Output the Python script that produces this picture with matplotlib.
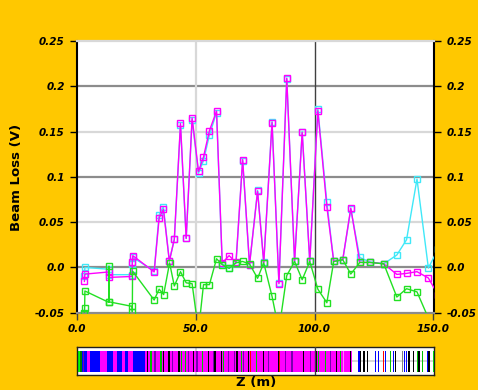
import matplotlib
matplotlib.use('Agg')
import matplotlib.pyplot as plt

# beam loss readings along the line (m, V)
z_mc = [3.0, 3.2, 13.3, 13.4, 23.1, 23.2, 23.4, 32.4, 34.5, 36.3, 38.8, 40.9, 43.5, 45.9,
        48.4, 51.1, 53.2, 55.7, 58.7, 61.1, 64.0, 66.9, 69.7, 72.6, 76.0, 78.6, 82.1, 85.0,
        88.3, 91.6, 94.8, 98.0, 101.4, 105.2, 108.1, 111.9, 115.3, 119.1, 123.3, 129.2,
        134.7, 138.8, 143.2, 148.0, 152.0]
magenta_v = [-0.0155, -0.0074, -0.005, -0.011, -0.010, 0.006, 0.013, -0.005, 0.0545, 0.064,
             0.007, 0.031, 0.159, 0.032, 0.165, 0.106, 0.122, 0.151, 0.1726, 0.005, 0.013,
             0.0055, 0.119, 0.003, 0.084, 0.005, 0.160, -0.018, 0.209, 0.0066, 0.149, 0.0066,
             0.173, 0.067, 0.0066, 0.0085, 0.0655, 0.0055, 0.0055, 0.004, -0.0077, -0.0066,
             -0.0047, -0.0117, -0.030]
cyan_v = [-0.010, 0.0, -0.002, -0.008, -0.008, 0.004, 0.011, -0.004, 0.058, 0.067,
          0.007, 0.031, 0.157, 0.032, 0.163, 0.104, 0.118, 0.146, 0.171, 0.004, -0.001,
          0.005, 0.118, 0.003, 0.085, 0.006, 0.161, -0.017, 0.208, 0.0066, 0.150, 0.0066,
          0.175, 0.072, 0.0066, 0.0085, 0.064, 0.011, 0.006, 0.004, 0.0137, 0.0306,
          0.0976, -0.0007, 0.020]

z_green = [3.0, 3.1, 3.2, 13.3, 13.35, 13.4, 23.1, 23.2, 23.3, 32.4, 34.5, 36.4, 38.9, 40.9,
           43.5, 45.9, 48.4, 51.1, 53.2, 55.7, 58.7, 61.1, 64.0, 66.9, 69.7, 72.6, 76.0, 78.6,
           82.1, 85.0, 88.3, 91.6, 94.8, 98.0, 101.4, 105.2, 108.1, 111.9, 115.3, 119.1,
           123.3, 129.2, 134.7, 138.8, 143.2, 148.0]
green_v = [-0.050, -0.045, -0.026, -0.0386, 0.0015, -0.038, -0.043, -0.049, -0.004, -0.036,
           -0.024, -0.030, 0.005, -0.0205, -0.0047, -0.017, -0.018, -0.070, -0.019, -0.019,
           0.0096, 0.003, -0.001, 0.005, 0.0066, 0.0038, -0.012, 0.005, -0.032, -0.0695,
           -0.009, 0.0066, -0.0136, 0.0066, -0.024, -0.039, 0.0066, 0.0085, -0.0073, 0.0055,
           0.0055, 0.004, -0.0327, -0.0235, -0.027, -0.056]

yticks = [-0.05, 0.0, 0.05, 0.1, 0.15, 0.2, 0.25]
ytick_labels = ['-0.05', '0.0', '0.05', '0.1', '0.15', '0.2', '0.25']
xticks = [0, 50, 100, 150]
xtick_labels = ['0.0', '50.0', '100.0', '150.0']

# beam line layout strip
block_start = [0.0, 1.1, 3.9, 5.3, 9.5, 12.5, 15.0, 16.6, 18.7, 20.1, 21.5, 23.6, 28.6]
block_end = [1.1, 3.9, 5.3, 9.5, 12.5, 15.0, 16.6, 18.7, 20.1, 21.5, 23.6, 28.6, 115.9]
block_color = ['#00ff00', '#0000ff', '#ff00ff', '#0000ff', '#ff00ff', '#0000ff', '#ff00ff',
               '#0000ff', '#ff00ff', '#0000ff', '#ff00ff', '#0000ff', '#ff00ff']

elem_pos = [1.6, 2.7, 29.7, 31.1, 32.8, 35.3, 36.3, 38.7, 40.1, 42.9, 43.8, 45.5, 46.9, 49.0,
            50.4, 52.9, 55.3, 57.4, 58.1, 60.7, 61.6, 63.8, 66.3, 67.3, 69.1, 70.1, 72.2,
            72.9, 75.5, 78.5, 80.7, 84.9, 85.3, 87.7, 90.5, 95.4, 98.3, 100.8, 101.8, 104.6,
            106.7, 109.3, 110.9, 112.3, 115.2, 118.7, 119.4, 120.8, 122.2, 125.7, 127.1,
            129.0, 130.0, 132.1, 133.2, 134.2, 137.0, 138.0, 138.8, 139.8, 141.7, 143.3,
            144.0, 145.5, 147.6, 148.3, 150.3]
elem_color = ['#008000', '#7a00b0', 'black', '#00c000', '#7a00b0', '#00c000', 'black', 'black',
              '#7a00b0', 'black', '#00c000', '#00c000', '#7a00b0', 'black', '#7a00b0',
              '#00c000', 'black', '#7a00b0', 'black', 'black', '#00c000', '#7a00b0',
              '#7a00b0', 'black', '#00c000', '#7a00b0', 'black', 'red', '#00c000', 'black',
              '#7a00b0', 'black', 'red', '#7a00b0', '#7a00b0', 'black', '#7a00b0', 'black',
              '#00c000', '#00c000', '#7a00b0', 'black', '#00c000', '#ff80ff', 'black',
              '#0000ff', 'black', 'black', 'black', '#0000ff', '#0000ff', 'red', '#0000ff',
              '#00c000', '#0000ff', 'black', 'gray', '#0000ff', '#0000ff', 'black', 'black',
              '#00c000', 'black', '#00c000', '#0000ff', 'black', '#00ff00']

gold = '#ffc800'
fig = plt.figure(figsize=(4.78, 3.90), dpi=100, facecolor=gold)
ax = fig.add_axes([0.1617, 0.1982, 0.7469, 0.6967])
ax.set_facecolor('white')

for yv in [0.05, 0.15]:
    ax.axhline(yv, color='#d8d8d8', lw=1.6, zorder=1)
for yv in [0.0, 0.1, 0.2]:
    ax.axhline(yv, color='#8c8c8c', lw=1.6, zorder=1)
ax.axvline(50, color='#d8d8d8', lw=1.6, zorder=1)
ax.axvline(100, color='#404040', lw=1.0, zorder=1)

ax.plot(z_mc, cyan_v, color='#40e8f8', lw=1.0, marker='s', ms=4.2, mfc='none',
        mec='#40e8f8', mew=1.0, zorder=3)
ax.plot(z_mc, magenta_v, color='#ff00ff', lw=1.0, marker='s', ms=4.2, mfc='none',
        mec='#ff00ff', mew=1.0, zorder=4)
ax.plot(z_green, green_v, color='#22e022', lw=1.0, marker='s', ms=4.2, mfc='none',
        mec='#22e022', mew=1.0, zorder=5)

ax.set_xlim(0, 150.5)
ax.set_ylim(-0.05, 0.25)
ax.set_xticks(xticks)
ax.set_xticklabels(xtick_labels)
ax.set_yticks(yticks)
ax.set_yticklabels(ytick_labels)
ax.tick_params(axis='y', which='both', direction='out', length=5, width=1, color='black',
               left=True, right=True, labelleft=True, labelright=True, labelsize=7.5, pad=4)
ax.tick_params(axis='x', direction='out', length=5, width=1, color='#404040',
               labelsize=7.5, pad=3)
for lab in ax.get_xticklabels() + ax.get_yticklabels():
    lab.set_fontweight('bold')
    lab.set_fontstyle('italic')
ax.spines['left'].set_color('black')
ax.spines['left'].set_linewidth(1.5)
ax.spines['right'].set_color('black')
ax.spines['right'].set_linewidth(1.5)
ax.spines['top'].set_color('#d8d8d8')
ax.spines['top'].set_linewidth(1.6)
ax.spines['bottom'].set_color('#8c8c8c')
ax.spines['bottom'].set_linewidth(1.6)
fig.text(17 / 478, 1 - 177 / 390, 'Beam Loss (V)', rotation=90, fontsize=9.5,
         fontweight='bold', ha='center', va='center')

# layout strip
sx = fig.add_axes([0.1617, 0.0385, 0.7469, 0.071])
sx.set_facecolor('white')
sx.set_xlim(0, 150.5)
sx.set_ylim(0, 1)
sx.axhline(0.5, color='#d0d0d0', lw=1.2, zorder=0)
sx.axvline(50, color='#d0d0d0', lw=1.2, zorder=0)
sx.axvline(100, color='#404040', lw=1.0, zorder=3)
widths = [e - s for s, e in zip(block_start, block_end)]
sx.bar(block_start, 0.76, width=widths, bottom=0.12, align='edge', color=block_color,
       linewidth=0, zorder=1)
sx.bar(elem_pos, 0.76, width=0.55, bottom=0.12, color=elem_color, linewidth=0, zorder=2)
sx.set_xticks([])
sx.set_yticks([])
for sp in sx.spines.values():
    sp.set_color('#202020')
    sp.set_linewidth(1.0)
sx.set_xlabel('Z (m)', fontsize=9.5, fontweight='bold', labelpad=1)

fig.savefig('out.png', dpi=100, facecolor=gold)
